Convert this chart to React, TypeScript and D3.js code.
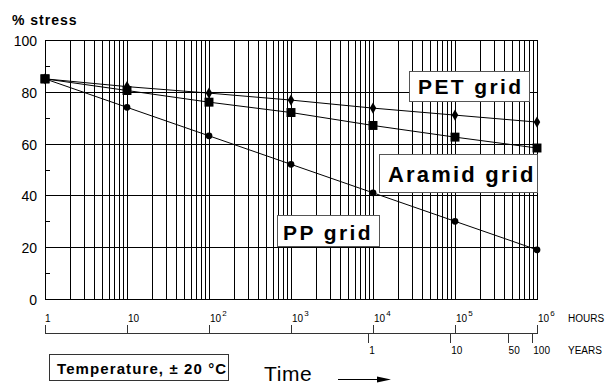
import * as d3 from 'd3';
import React, { useEffect, useRef } from 'react';

// hours axis (log) and values
const hours = [1, 10, 100, 1000, 10000, 100000, 1000000];
const ppGrid = [85, 74, 63, 52, 41, 30, 19];
const aramidGrid = [85, 80.5, 76, 72, 67, 62.5, 58.3];
const petGrid = [85, 82, 79.5, 76.8, 73.7, 71, 68.3];

const yTicks = [0, 20, 40, 60, 80, 100];
const yMinor = [10, 30, 50, 70, 90];
const hourExp = ['', '', '2', '3', '4', '5', '6'];
const yearTicks = [1, 10, 50, 100];
const HOURS_PER_YEAR = 8760;

export default () => {
    const ref = useRef<any>();

    useEffect(() => {
        const svg = d3.select<any, any>(ref.current);
        svg.selectAll('*').remove();

        const font = "'Liberation Sans', Arial, sans-serif";
        const left = 45, right = 537, top = 40, bottom = 299;

        const x = d3.scaleLog().domain([1, 1e6]).range([left, right]);
        const y = d3.scaleLinear().domain([0, 100]).range([bottom, top]);

        const grid = svg.append('g').attr('stroke', '#000').attr('stroke-width', 1).attr('shape-rendering', 'crispEdges');

        // vertical log grid 2..9 per decade, plus decades
        const vlines: number[] = [];
        for (let e = 0; e < 6; e++) {
            for (let m = 1; m <= 9; m++) vlines.push(m * Math.pow(10, e));
        }
        vlines.push(1e6);
        grid.selectAll('line.v').data(vlines).join('line')
            .attr('class', 'v')
            .attr('x1', d => Math.round(x(d)) + 0.5).attr('x2', d => Math.round(x(d)) + 0.5)
            .attr('y1', top).attr('y2', bottom);

        // horizontal grid
        grid.selectAll('line.h').data(yTicks).join('line')
            .attr('class', 'h')
            .attr('x1', left).attr('x2', right + 1)
            .attr('y1', d => Math.round(y(d)) + 0.5).attr('y2', d => Math.round(y(d)) + 0.5);

        // minor y ticks inside
        grid.selectAll('line.m').data(yMinor).join('line')
            .attr('class', 'm')
            .attr('x1', left).attr('x2', left + 5)
            .attr('y1', d => Math.round(y(d)) + 0.5).attr('y2', d => Math.round(y(d)) + 0.5);

        // y labels
        svg.append('g').selectAll('text').data(yTicks).join('text')
            .attr('x', 37).attr('y', d => y(d) + 6)
            .attr('text-anchor', 'end')
            .attr('font-family', font).attr('font-size', 14)
            .text(d => d);

        svg.append('text')
            .attr('x', 12).attr('y', 25)
            .attr('font-family', font).attr('font-size', 14).attr('font-weight', 'bold')
            .attr('letter-spacing', 1)
            .text('% stress');

        // series
        const line = d3.line<number>()
            .x((_, i) => x(hours[i]))
            .y(d => y(d));

        const series = [
            { data: petGrid, shape: 'diamond' },
            { data: aramidGrid, shape: 'square' },
            { data: ppGrid, shape: 'circle' },
        ];
        const symbols: any = {
            diamond: d3.symbol().type(d3.symbolDiamond).size(36),
            square: d3.symbol().type(d3.symbolSquare).size(80),
            circle: d3.symbol().type(d3.symbolCircle).size(36),
        };

        series.forEach(s => {
            svg.append('path')
                .datum(s.data)
                .attr('fill', 'none')
                .attr('stroke', '#000')
                .attr('stroke-width', 1)
                .attr('d', line as any);
            svg.append('g').selectAll('path').data(s.data).join('path')
                .attr('transform', (d, i) => `translate(${x(hours[i])},${y(d)})`)
                .attr('d', symbols[s.shape])
                .attr('fill', '#000');
        });
        // start point is a square
        svg.append('path')
            .attr('transform', `translate(${x(hours[0])},${y(aramidGrid[0])})`)
            .attr('d', symbols.square)
            .attr('fill', '#000');

        // labels in boxes
        const boxes = [
            { text: 'PET grid', x0: 409, y0: 71, w: 120, h: 30, fs: 21, ls: 2.4, tx: 418, base: 94 },
            { text: 'Aramid grid', x0: 379, y0: 154, w: 158, h: 38, fs: 22, ls: 2.2, tx: 388, base: 182 },
            { text: 'PP grid', x0: 277, y0: 215, w: 102, h: 31, fs: 21, ls: 2.4, tx: 283, base: 240 },
        ];
        boxes.forEach(b => {
            svg.append('rect')
                .attr('x', b.x0 + 0.5).attr('y', b.y0 + 0.5)
                .attr('width', b.w).attr('height', b.h)
                .attr('fill', '#fff').attr('stroke', '#555').attr('stroke-width', 1);
            svg.append('text')
                .attr('x', b.tx).attr('y', b.base)
                .attr('font-family', font).attr('font-size', b.fs).attr('font-weight', 'bold')
                .attr('letter-spacing', b.ls)
                .text(b.text);
        });

        // hours labels
        const hl = svg.append('g').attr('font-family', font).attr('fill', '#000');
        hours.forEach((h, i) => {
            const t = hl.append('text')
                .attr('x', x(h) + (i === 0 ? 0 : 1)).attr('y', 322)
                .attr('font-size', 10);
            t.append('tspan').text(i === 0 ? '1' : '10');
            if (hourExp[i]) {
                t.append('tspan').attr('dy', -6).attr('dx', 1).attr('font-size', 8).text(hourExp[i]);
            }
        });
        hl.append('text').attr('x', 568).attr('y', 322).attr('font-size', 10).text('HOURS');

        // second axis: hours ticks up, years ticks down
        const ax = svg.append('g').attr('stroke', '#333').attr('shape-rendering', 'crispEdges');
        ax.append('line').attr('x1', left).attr('x2', right).attr('y1', 333.5).attr('y2', 333.5);
        ax.selectAll('line.hu').data(hours).join('line')
            .attr('class', 'hu')
            .attr('x1', d => Math.round(x(d)) + 0.5).attr('x2', d => Math.round(x(d)) + 0.5)
            .attr('y1', 325).attr('y2', 334);
        ax.selectAll('line.yd').data(yearTicks).join('line')
            .attr('class', 'yd')
            .attr('x1', d => Math.round(x(d * HOURS_PER_YEAR)) + 0.5).attr('x2', d => Math.round(x(d * HOURS_PER_YEAR)) + 0.5)
            .attr('y1', 333).attr('y2', 343);
        svg.append('g').selectAll('text').data(yearTicks).join('text')
            .attr('x', d => x(d * HOURS_PER_YEAR) + 1).attr('y', 354)
            .attr('font-family', font).attr('font-size', 10)
            .text(d => d);
        svg.append('text').attr('x', 568).attr('y', 354)
            .attr('font-family', font).attr('font-size', 10).text('YEARS');

        // temperature box
        svg.append('rect')
            .attr('x', 49.5).attr('y', 354.5).attr('width', 179).attr('height', 26)
            .attr('fill', '#fff').attr('stroke', '#333');
        svg.append('text')
            .attr('x', 57).attr('y', 374)
            .attr('font-family', font).attr('font-size', 15).attr('font-weight', 'bold')
            .attr('letter-spacing', 1.1)
            .text('Temperature, ± 20 °C');

        // Time arrow
        svg.append('text')
            .attr('x', 264).attr('y', 381)
            .attr('font-family', font).attr('font-size', 21)
            .attr('letter-spacing', 0.6)
            .text('Time');
        svg.append('line')
            .attr('x1', 338).attr('x2', 380).attr('y1', 379.5).attr('y2', 379.5)
            .attr('stroke', '#000').attr('stroke-width', 1);
        svg.append('path')
            .attr('d', 'M377,376.5 L391,379.5 L377,382.5 Z')
            .attr('fill', '#000');
    });

    return (
        <svg ref={ref} width={606} height={386}
            style={{ position: 'absolute', left: 0, top: 0, background: '#fff' }} />
    );
};
